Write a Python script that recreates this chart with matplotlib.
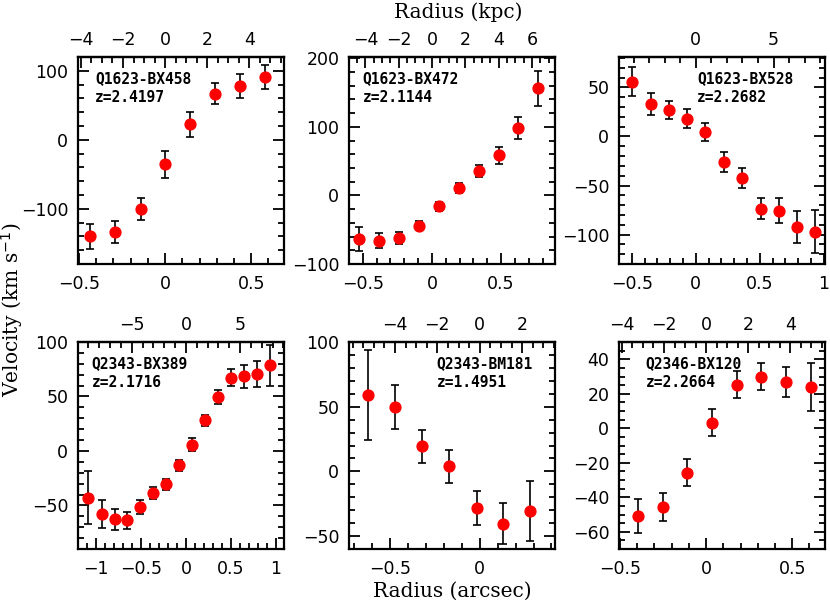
import matplotlib
matplotlib.use("Agg")
import matplotlib.pyplot as plt
from matplotlib.ticker import MultipleLocator, FixedLocator, FuncFormatter

# ---------------- data ----------------
names = ["Q1623-BX458", "Q1623-BX472", "Q1623-BX528",
         "Q2343-BX389", "Q2343-BM181", "Q2346-BX120"]
redshifts = ["z=2.4197", "z=2.1144", "z=2.2682",
             "z=2.1716", "z=1.4951", "z=2.2664"]

r1 = [-0.434, -0.289, -0.140, -0.002, 0.145, 0.291, 0.432, 0.580]
v1 = [-139.8, -133.0, -99.8, -35.7, 22.2, 67.0, 78.0, 90.6]
e1 = [18, 16, 16, 19, 17.5, 15.7, 17, 17.3]

r2 = [-0.527, -0.382, -0.237, -0.094, 0.051, 0.196, 0.338, 0.483, 0.623, 0.768]
v2 = [-62.9, -66.3, -62.0, -44.4, -16.1, 10.7, 36.1, 58.5, 98.5, 156.1]
e2 = [17.5, 11, 9, 6.6, 7, 7.3, 9, 12, 16, 25]

r3 = [-0.495, -0.352, -0.208, -0.065, 0.075, 0.221, 0.362, 0.506, 0.648, 0.788, 0.929]
v3 = [55.6, 33.2, 26.8, 18.0, 4.4, -25.8, -42.7, -73.9, -75.9, -91.9, -96.9]
e3 = [14.7, 11.5, 9.5, 9.5, 9.2, 10, 10.3, 10.7, 12.7, 16.4, 21.5]

r4 = [-1.085, -0.937, -0.792, -0.656, -0.507, -0.367, -0.226, -0.081,
      0.063, 0.207, 0.352, 0.496, 0.641, 0.785, 0.930]
v4 = [-42.9, -57.7, -62.9, -63.8, -51.5, -38.7, -30.7, -13.2,
      5.8, 28.2, 49.4, 67.2, 68.7, 70.9, 78.5]
e4 = [24.2, 12.9, 9.8, 8.1, 6.7, 5.7, 5.2, 5.1, 5.8, 5.1, 6.1, 8, 10.6, 12, 18.7]

r5 = [-0.624, -0.471, -0.322, -0.169, -0.017, 0.132, 0.283]
v5 = [59.1, 49.7, 19.4, 4.1, -28.5, -40.4, -30.6]
e5 = [34.7, 16.8, 12.7, 12.8, 13.3, 15.8, 23]

r6 = [-0.397, -0.251, -0.110, 0.032, 0.179, 0.320, 0.462, 0.607]
v6 = [-50.8, -45.5, -25.8, 3.3, 25.2, 30.0, 26.9, 23.8]
e6 = [9.7, 8.2, 7.8, 7.9, 7.7, 7.9, 8.5, 14]

radii = [r1, r2, r3, r4, r5, r6]
vels = [v1, v2, v3, v4, v5, v6]
errs = [e1, e2, e3, e4, e5, e6]

# kpc per arcsec for top axes
kpc_per_arcsec = [8.2, 8.3, 8.22, 8.3, 8.45, 8.2]

# tick values
bottom_ticks = [[-0.5, 0, 0.5], [-0.5, 0, 0.5], [-0.5, 0, 0.5, 1],
                [-1, -0.5, 0, 0.5, 1], [-0.5, 0], [-0.5, 0, 0.5]]
top_ticks = [[-4, -2, 0, 2, 4], [-4, -2, 0, 2, 4, 6], [0, 5],
             [-5, 0, 5], [-4, -2, 0, 2], [-4, -2, 0, 2, 4]]

xlims = [(-0.505, 0.69), (-0.6, 0.89), (-0.6, 1.01),
         (-1.2, 1.09), (-0.73, 0.42), (-0.505, 0.69)]
ylims = [(-180, 120), (-100, 202), (-130, 81),
         (-90, 100), (-60, 100), (-70, 50)]
ymajor = [100, 100, 50, 50, 50, 20]
yminor = [20, 20, 10, 10, 10, 5]
topminor = [0.5, 0.5, 1, 1, 0.5, 0.5]
label_x = [0.083, 0.066, 0.38, 0.066, 0.425, 0.13]

# ---------------- layout ----------------
W, H = 830, 605
fig = plt.figure(figsize=(W / 100, H / 100), dpi=100)

lefts = [78, 349, 619]
tops = [57, 342]
pw, ph = 206, 207

plt.rcParams['font.family'] = ['DejaVu Sans']


def fmt(v, pos=None):
    s = "{:g}".format(round(v, 6))
    if s == "-0":
        s = "0"
    return s.replace("-", "\u2212")


formatter = FuncFormatter(fmt)

for i in range(6):
    row, col = divmod(i, 3)
    l = lefts[col]
    t = tops[row]
    ax = fig.add_axes([l / W, 1 - (t + ph) / H, pw / W, ph / H])
    ax.errorbar(radii[i], vels[i], yerr=errs[i], fmt='o', color='red',
                markersize=7.8, ecolor='black', elinewidth=1.2,
                capsize=3, capthick=1.2, zorder=3)
    ax.set_xlim(*xlims[i])
    ax.set_ylim(*ylims[i])
    ax.xaxis.set_major_locator(FixedLocator(bottom_ticks[i]))
    ax.xaxis.set_minor_locator(MultipleLocator(0.1))
    ax.xaxis.set_major_formatter(formatter)
    ax.yaxis.set_major_locator(MultipleLocator(ymajor[i]))
    ax.yaxis.set_minor_locator(MultipleLocator(yminor[i]))
    ax.yaxis.set_major_formatter(formatter)
    ax.tick_params(which='both', direction='in', right=True, top=False,
                   width=1.3, labelsize=12.5)
    ax.tick_params(axis='x', which='both', pad=8)
    ax.tick_params(axis='y', which='both', pad=7)
    ax.tick_params(which='major', length=8)
    ax.tick_params(which='minor', length=4)
    for sp in ax.spines.values():
        sp.set_linewidth(1.6)

    s = kpc_per_arcsec[i]
    sec = ax.secondary_xaxis('top', functions=(lambda x, s=s: x * s,
                                               lambda x, s=s: x / s))
    sec.xaxis.set_major_locator(FixedLocator(top_ticks[i]))
    sec.xaxis.set_minor_locator(MultipleLocator(topminor[i]))
    sec.xaxis.set_major_formatter(formatter)
    sec.tick_params(which='both', direction='in', width=1.3,
                    labelsize=12.5, pad=6)
    sec.tick_params(which='major', length=8)
    sec.tick_params(which='minor', length=4)
    sec.spines['top'].set_linewidth(1.6)

    ax.text(label_x[i], 0.93, names[i] + "\n" + redshifts[i],
            transform=ax.transAxes, ha='left', va='top',
            fontsize=10.5, fontweight='bold', linespacing=1.3,
            family='DejaVu Sans Mono')

fig.text(458 / W, 1 - 12 / H, "Radius (kpc)", ha='center', va='center',
         fontsize=14.5, family='DejaVu Serif')
fig.text(452 / W, 1 - 591 / H, "Radius (arcsec)", ha='center', va='center',
         fontsize=14.5, family='DejaVu Serif')
fig.text(12 / W, 1 - 310 / H, "Velocity (km s$^{-1}$)", ha='center',
         va='center', rotation=90, fontsize=14.5, family='DejaVu Serif')

fig.savefig("out.png", dpi=100)
